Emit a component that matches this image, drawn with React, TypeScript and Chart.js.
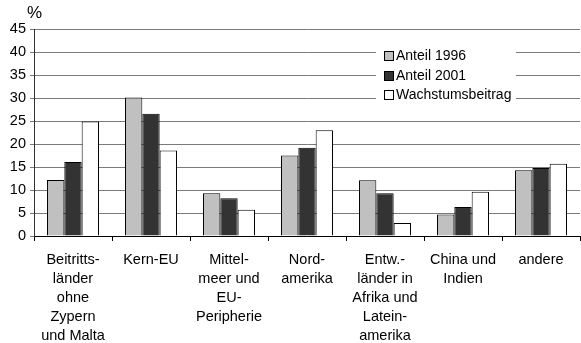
import React, { useEffect, useRef } from "react";
import { Chart, registerables } from "chart.js";

Chart.register(...registerables);

const categories: string[][] = [
  ["Beitritts-", "länder", "ohne", "Zypern", "und Malta"],
  ["Kern-EU"],
  ["Mittel-", "meer und", "EU-", "Peripherie"],
  ["Nord-", "amerika"],
  ["Entw.-", "länder in", "Afrika und", "Latein-", "amerika"],
  ["China und", "Indien"],
  ["andere"],
];
const anteil1996 = [12.2, 30.1, 9.3, 17.5, 12.1, 4.7, 14.3];
const anteil2001 = [16.1, 26.6, 8.2, 19.2, 9.3, 6.3, 14.8];
const wachstum = [24.9, 18.6, 5.7, 23.0, 2.8, 9.6, 15.7];
const seriesNames = ["Anteil 1996", "Anteil 2001", "Wachstumsbeitrag"];
const seriesColors = ["#c0c0c0", "#333333", "#ffffff"];

const FONT = "'Liberation Sans', Arial, Helvetica, sans-serif";

const overlayPlugin = {
  id: "overlay",
  afterDatasetsDraw(chart: any) {
    const ctx = chart.ctx as CanvasRenderingContext2D;
    ctx.save();
    // percent sign
    ctx.fillStyle = "#000";
    ctx.font = `17px ${FONT}`;
    ctx.textAlign = "left";
    ctx.textBaseline = "middle";
    ctx.fillText("%", 27, 13.5);
    // legend
    const x0 = 376;
    const y0 = 42;
    ctx.fillStyle = "#fff";
    ctx.fillRect(x0, y0, 140, 64);
    const rows = [56, 76, 95];
    seriesNames.forEach((name, i) => {
      const y = rows[i];
      ctx.fillStyle = seriesColors[i];
      ctx.fillRect(384.5, y - 4.5, 9, 9);
      ctx.strokeStyle = "#000";
      ctx.lineWidth = 1;
      ctx.strokeRect(384.5, y - 4.5, 9, 9);
      ctx.fillStyle = "#000";
      ctx.font = `14px ${FONT}`;
      ctx.textBaseline = "middle";
      ctx.fillText(name, 396, y);
    });
    ctx.restore();
  },
};

export default function App() {
  const ref = useRef<HTMLCanvasElement>(null);
  useEffect(() => {
    document.body.style.margin = "0";
    const data = [anteil1996, anteil2001, wachstum];
    const chart = new Chart(ref.current!, {
      type: "bar",
      data: {
        labels: categories,
        datasets: seriesNames.map((name, i) => ({
          label: name,
          data: data[i],
          backgroundColor: seriesColors[i],
          borderColor: "#000",
          borderWidth: 1,
          borderSkipped: "bottom" as const,
          categoryPercentage: 0.667,
          barPercentage: 1,
        })),
      },
      options: {
        responsive: false,
        animation: false,
        maintainAspectRatio: false,
        layout: { padding: { top: 29, right: 1, left: 0, bottom: 0 } },
        plugins: { legend: { display: false }, tooltip: { enabled: false } },
        scales: {
          x: {
            grid: {
              display: true,
              offset: true,
              drawOnChartArea: false,
              drawTicks: true,
              tickLength: 5,
              color: "#000",
            },
            border: { display: true, color: "#000" },
            ticks: {
              color: "#000",
              font: { family: FONT, size: 14.5, lineHeight: 1.32 },
              padding: 9,
              maxRotation: 0,
              autoSkip: false,
            },
            afterFit(scale: any) {
              scale.height = 107;
            },
          },
          y: {
            min: 0,
            max: 45,
            grid: {
              color: "#7a7a7a",
              tickLength: 4,
              drawTicks: true,
            },
            border: { display: true, color: "#333" },
            ticks: {
              stepSize: 5,
              color: "#000",
              font: { family: FONT, size: 14.5 },
              padding: 4,
            },
            afterFit(scale: any) {
              scale.width = 34;
            },
          },
        },
      },
      plugins: [overlayPlugin],
    });
    return () => chart.destroy();
  }, []);
  return (
    <div style={{ width: 581, height: 343 }}>
      <canvas ref={ref} width={581} height={343} style={{ display: "block" }} />
    </div>
  );
}
